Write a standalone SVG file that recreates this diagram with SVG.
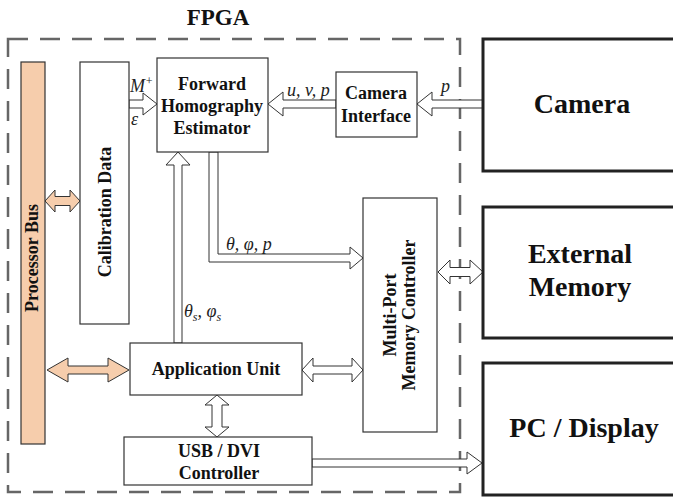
<svg xmlns="http://www.w3.org/2000/svg" width="673" height="497" viewBox="0 0 673 497">
  <style>
    .box { fill: #fff; stroke: #333; stroke-width: 1.2; }
    .ext { fill: #fff; stroke: #222; stroke-width: 3; }
    .bus { fill: #f6cdac; stroke: #333; stroke-width: 1.2; }
    .arr { fill: #fff; stroke: #333; stroke-width: 1; stroke-linejoin: miter; }
    .arr-o { fill: #f6cdac; stroke: #333; stroke-width: 1; }
    .lbl { font-family: "Liberation Serif", "Times New Roman", serif; font-weight: bold; font-size: 18px; fill: #111; text-anchor: middle; }
    .big { font-family: "Liberation Serif", "Times New Roman", serif; font-weight: bold; font-size: 28px; fill: #111; text-anchor: middle; }
    .sig { font-family: "Liberation Serif", "Times New Roman", serif; font-style: italic; font-size: 18px; fill: #222; }
    .sub { font-size: 12px; }
  </style>

  <!-- FPGA boundary -->
  <g id="fpga">
    <text class="big" x="218" y="25" style="font-size:23px">FPGA</text>
    <rect x="8" y="39" width="452" height="453" fill="none" stroke="#666" stroke-width="2.5" stroke-dasharray="20 12"/>
  </g>

  <!-- Connectors -->
  <g id="connectors">
    <!-- Calibration Data <-> Processor Bus -->
    <polygon class="arr-o" points="45,201 55,190 55,196.5 70,196.5 70,190 80,201 70,212 70,205.5 55,205.5 55,212"/>
    <!-- Processor Bus <-> Application Unit -->
    <polygon class="arr-o" points="47,370 68,358 68,366 108,366 108,358 129,370 108,382 108,374 68,374 68,382"/>
    <!-- Calibration Data -> Forward Homography Estimator -->
    <polygon class="arr" points="129,100 143,100 143,93 157,104 143,115 143,108 129,108"/>
    <!-- Camera Interface -> Forward Homography Estimator -->
    <polygon class="arr" points="336,100 283,100 283,92 268,104 283,116 283,108 336,108"/>
    <!-- Camera -> Camera Interface -->
    <polygon class="arr" points="483,100 432,100 432,92 417,104 432,116 432,108 483,108"/>
    <!-- Estimator -> Memory Controller (theta, phi, p) -->
    <polygon class="arr" points="209,152 209,262 350,262 350,269 363,258 350,247 350,254 218,254 218,152"/>
    <!-- Application Unit -> Estimator (theta_s, phi_s) -->
    <polygon class="arr" points="174,343 174,165 166,165 178,152 190,165 182,165 182,343"/>
    <!-- Application Unit <-> Memory Controller -->
    <polygon class="arr" points="302,370 313,358 313,366 352,366 352,358 363,370 352,382 352,374 313,374 313,382"/>
    <!-- Memory Controller <-> External Memory -->
    <polygon class="arr" points="438,272 450,260 450,267.5 470,267.5 470,260 483,272 470,284 470,276.5 450,276.5 450,284"/>
    <!-- Application Unit <-> USB / DVI Controller -->
    <polygon class="arr" points="217,395 229,405 222,405 222,427 229,427 217,437 205,427 212,427 212,405 205,405"/>
    <!-- USB / DVI Controller -> PC / Display -->
    <polygon class="arr" points="312,459 467,459 467,452 482,463 467,474 467,467 312,467"/>

    <text class="sig" x="130" y="92">M<tspan class="sub" dy="-7">+</tspan></text>
    <text class="sig" x="131" y="125">ε</text>
    <text class="sig" x="287" y="96">u, v, p</text>
    <text class="sig" x="441" y="92">p</text>
    <text class="sig" x="226" y="250">θ, φ, p</text>
    <text class="sig" x="184" y="317">θ<tspan class="sub" dy="4">s</tspan><tspan dy="-4">, φ</tspan><tspan class="sub" dy="4">s</tspan></text>
  </g>

  <!-- Processor Bus -->
  <g id="processor-bus">
    <rect class="bus" x="21" y="62" width="24" height="382"/>
    <text class="lbl" transform="translate(38,258) rotate(-90)">Processor Bus</text>
  </g>

  <!-- Calibration Data -->
  <g id="calibration-data">
    <rect class="box" x="80" y="62" width="49" height="262"/>
    <text class="lbl" transform="translate(111,212) rotate(-90)">Calibration Data</text>
  </g>

  <!-- Forward Homography Estimator -->
  <g id="estimator">
    <rect class="box" x="157" y="58" width="111" height="94"/>
    <text class="lbl" x="212" y="90">Forward</text>
    <text class="lbl" x="212" y="112">Homography</text>
    <text class="lbl" x="212" y="134">Estimator</text>
  </g>

  <!-- Camera Interface -->
  <g id="camera-interface">
    <rect class="box" x="336" y="72" width="81" height="65"/>
    <text class="lbl" x="376" y="99">Camera</text>
    <text class="lbl" x="376" y="122">Interface</text>
  </g>

  <!-- Multi-Port Memory Controller -->
  <g id="memory-controller">
    <rect class="box" x="363" y="198" width="74" height="234"/>
    <text class="lbl" transform="translate(396,315) rotate(-90)">Multi-Port</text>
    <text class="lbl" transform="translate(415,315) rotate(-90)">Memory Controller</text>
  </g>

  <!-- Application Unit -->
  <g id="application-unit">
    <rect class="box" x="130" y="343" width="172" height="52"/>
    <text class="lbl" x="216" y="375">Application Unit</text>
  </g>

  <!-- USB / DVI Controller -->
  <g id="usb-dvi">
    <rect class="box" x="124" y="437" width="188" height="48"/>
    <text class="lbl" x="219" y="457">USB / DVI</text>
    <text class="lbl" x="219" y="479">Controller</text>
  </g>

  <!-- External devices -->
  <g id="camera">
    <rect class="ext" x="483" y="39" width="200" height="132"/>
    <text class="big" x="582" y="113">Camera</text>
  </g>
  <g id="external-memory">
    <rect class="ext" x="483" y="207" width="200" height="131"/>
    <text class="big" x="580" y="263">External</text>
    <text class="big" x="580" y="296">Memory</text>
  </g>
  <g id="pc-display">
    <rect class="ext" x="483" y="363" width="200" height="132"/>
    <text class="big" x="584" y="437">PC / Display</text>
  </g>
</svg>
